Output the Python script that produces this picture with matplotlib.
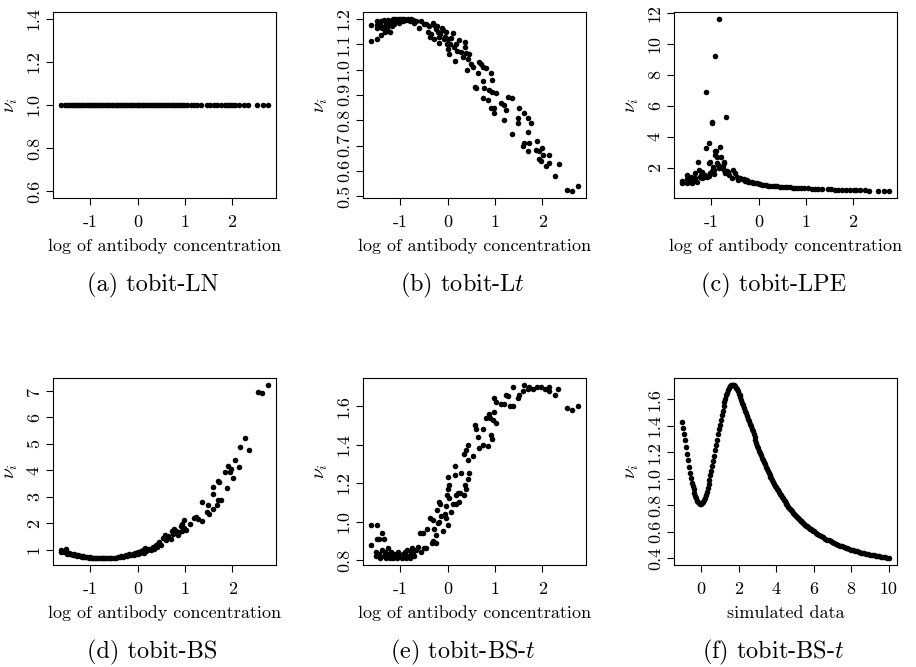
import matplotlib
matplotlib.use('Agg')
import matplotlib.pyplot as plt

plt.rcParams['font.family'] = ['cmr10', 'DejaVu Serif']
plt.rcParams['mathtext.fontset'] = 'cm'
plt.rcParams['axes.unicode_minus'] = False

# (a) tobit-LN : nu_i constant at 1
a_x = [-1.62, -1.55, -1.5, -1.46, -1.42, -1.38, -1.35, -1.31, -1.28, -1.24, -1.2, -1.17,
       -1.13, -1.1, -1.06, -1.02, -0.99, -0.95, -0.92, -0.88, -0.85, -0.81, -0.78, -0.74,
       -0.7, -0.66, -0.63, -0.59, -0.55, -0.52, -0.48, -0.44, -0.41, -0.37, -0.33, -0.3,
       -0.26, -0.22, -0.19, -0.15, -0.11, -0.08, -0.04, 0.0, 0.03, 0.07, 0.11, 0.14, 0.18,
       0.22, 0.26, 0.3, 0.34, 0.38, 0.42, 0.46, 0.5, 0.54, 0.58, 0.62, 0.66, 0.7, 0.74,
       0.78, 0.82, 0.86, 0.9, 0.94, 0.98, 1.05, 1.13, 1.2, 1.27, 1.35, 1.47, 1.54, 1.62,
       1.68, 1.76, 1.86, 1.9, 1.94, 1.98, 2.02, 2.07, 2.15, 2.26, 2.34, 2.54, 2.65, 2.76]
a_y = [1.0] * len(a_x)

# (b) tobit-Lt
b_x = [-1.61, -1.61, -1.49, -1.49, -1.49, -1.49, -1.42, -1.4, -1.4, -1.38, -1.35, -1.33,
       -1.33, -1.3, -1.28, -1.26, -1.24, -1.22, -1.2, -1.18, -1.15, -1.13, -1.1, -1.08,
       -1.05, -1.02, -1.0, -0.97, -0.94, -0.92, -0.88, -0.84, -0.8, -0.77, -0.73, -0.7,
       -0.66, -0.61, -0.56, -0.5, -0.45, -0.42, -0.4, -0.38, -0.34, -0.31, -0.29, -0.28,
       -0.25, -0.22, -0.2, -0.19, -0.17, -0.15, -0.12, -0.1, -0.08, -0.06, -0.04, -0.02,
       0.0, 0.02, 0.04, 0.06, 0.08, 0.11, 0.13, 0.15, 0.18, 0.2, 0.25, 0.28, 0.32, 0.36,
       0.37, 0.39, 0.42, 0.44, 0.46, 0.5, 0.53, 0.57, 0.6, 0.64, 0.67, 0.7, 0.74, 0.74,
       0.74, 0.78, 0.81, 0.85, 0.88, 0.92, 0.92, 0.95, 0.95, 0.99, 0.99, 1.02, 1.13, 1.2,
       1.2, 1.24, 1.27, 1.36, 1.36, 1.48, 1.48, 1.52, 1.59, 1.62, 1.62, 1.69, 1.69, 1.69,
       1.73, 1.76, 1.87, 1.88, 1.94, 1.94, 1.97, 2.0, 2.01, 2.07, 2.14, 2.15, 2.26, 2.35,
       2.52, 2.63, 2.75]
b_y = [1.176, 1.113, 1.12, 1.19, 1.176, 1.163, 1.18, 1.137, 1.19, 1.165, 1.195, 1.17,
       1.15, 1.185, 1.16, 1.195, 1.175, 1.15, 1.19, 1.17, 1.198, 1.18, 1.2, 1.19,
       1.2, 1.185, 1.198, 1.2, 1.19, 1.2, 1.195, 1.2, 1.19, 1.2, 1.195, 1.185,
       1.19, 1.163, 1.19, 1.18, 1.18, 1.15, 1.17, 1.13, 1.14, 1.185, 1.175, 1.12,
       1.16, 1.17, 1.15, 1.13, 1.104, 1.14, 1.165, 1.155, 1.12, 1.13, 1.15, 1.1,
       1.12, 1.08, 1.06, 1.1, 1.125, 1.143, 1.09, 1.032, 1.1, 1.075, 1.117, 1.07, 1.05, 1.11,
       1.09, 1.065, 1.0, 1.04, 1.06, 1.02, 1.01, 0.933, 0.927, 0.986, 1.03, 1.02, 1.01, 0.953,
       0.887, 0.927, 1.008, 0.88, 0.92, 0.986, 0.848, 0.96, 0.913, 0.848, 0.828, 0.906, 0.868, 0.86,
       0.8, 0.84, 0.89, 0.887, 0.745, 0.808, 0.789, 0.85, 0.697, 0.828, 0.71, 0.808, 0.755, 0.677,
       0.71, 0.79, 0.684, 0.717, 0.677, 0.645, 0.638, 0.69, 0.664, 0.618, 0.63, 0.664, 0.58, 0.627,
       0.526, 0.52, 0.54]

# (c) tobit-LPE
c_x = [-1.62, -1.62, -1.51, -1.51, -1.51, -1.45, -1.43, -1.41, -1.41, -1.38, -1.34, -1.34,
       -1.31, -1.27, -1.29, -1.25, -1.23, -1.2, -1.2, -1.16, -1.13, -1.09, -1.05, -1.03,
       -1.06, -1.04, -1.12, -1.06, -1.12, -0.99, -0.98, -0.92, -0.85, -0.69, -0.97, -0.95,
       -0.92, -0.92, -0.9, -0.88, -0.88, -0.86, -0.85, -0.81, -0.8, -0.78, -0.76, -0.74,
       -0.74, -0.73, -0.71, -0.68, -0.65, -0.62, -0.57, -0.55, -0.98, -0.95,
       -0.5, -0.46, -0.43, -0.4, -0.36, -0.32, -0.28, -0.25, -0.22, -0.18, -0.15, -0.11,
       -0.08, -0.04, 0.0, 0.03, 0.07, 0.11, 0.15, 0.2, 0.25, 0.3, 0.35, 0.4, 0.45, 0.5,
       0.55, 0.6, 0.66, 0.72, 0.78, 0.84, 0.9, 0.96, 1.05, 1.13, 1.2, 1.27, 1.35, 1.47,
       1.54, 1.62, 1.68, 1.76, 1.86, 1.94, 2.02, 2.07, 2.15, 2.26, 2.34, 2.54, 2.65, 2.76]
c_y = [0.99, 1.16, 1.25, 1.5, 1.03, 1.1, 1.42, 1.2, 1.0, 1.3, 1.63, 1.3,
       1.1, 1.85, 2.39, 1.4, 1.52, 1.74, 1.3, 1.42, 1.55, 1.38, 1.45, 1.63,
       2.28, 2.34, 3.25, 3.61, 6.88, 4.97, 4.9, 9.2, 11.63, 5.31, 2.06, 1.85,
       2.82, 3.08, 3.1, 2.71, 2.28, 2.2, 2.0, 3.35, 2.66, 1.96, 2.1, 1.85,
       2.39, 2.28, 1.63, 1.8, 1.7, 1.52, 1.3, 1.85, 1.75, 1.6,
       1.63, 1.42, 1.2, 1.35, 1.25, 1.27, 1.15, 1.2, 1.08, 1.1, 1.05, 1.03,
       0.98, 0.99, 0.95, 0.92, 0.9, 0.88, 0.86, 0.84, 0.82, 0.81, 0.79, 0.78, 0.77, 0.76,
       0.75, 0.73, 0.72, 0.71, 0.7, 0.69, 0.68, 0.67, 0.66, 0.64, 0.63, 0.62, 0.61, 0.6,
       0.59, 0.58, 0.57, 0.56, 0.55, 0.55, 0.54, 0.53, 0.53, 0.52, 0.51, 0.49, 0.48, 0.48]

# (d) tobit-BS
d_x = [-1.61, -1.61, -1.55, -1.51, -1.51, -1.48, -1.45, -1.42, -1.4, -1.37, -1.35, -1.32,
       -1.3, -1.27, -1.25, -1.22, -1.2, -1.17, -1.15, -1.12, -1.1, -1.06, -1.03, -1.0,
       -0.97, -0.93, -0.9, -0.87, -0.83, -0.8, -0.76, -0.73, -0.7, -0.66, -0.62, -0.59,
       -0.55, -0.5, -0.46, -0.42, -0.38, -0.35, -0.31, -0.28, -0.25, -0.22, -0.19, -0.17,
       -0.14, -0.1, -0.08, -0.05, -0.02, 0.0, 0.02, 0.05, 0.08, 0.11, 0.13, 0.15, 0.18,
       0.2, 0.25, 0.28, 0.32, 0.35, 0.39, 0.42, 0.43, 0.46, 0.5, 0.53, 0.57, 0.6, 0.64,
       0.7, 0.73, 0.75, 0.78, 0.81, 0.85, 0.88, 0.91, 0.94, 0.94, 0.98, 0.99, 1.02, 1.11,
       1.2, 1.24, 1.28, 1.36, 1.37, 1.47, 1.48, 1.5, 1.59, 1.59, 1.6, 1.67, 1.69, 1.69,
       1.72, 1.76, 1.85, 1.89, 1.92, 1.95, 1.97, 2.01, 2.05, 2.14, 2.17, 2.26, 2.35, 2.54,
       2.62, 2.75]
d_y = [1.01, 0.91, 0.93, 1.03, 0.91, 0.86, 0.88, 0.84, 0.85, 0.8, 0.83, 0.79,
       0.81, 0.77, 0.79, 0.75, 0.77, 0.74, 0.76, 0.73, 0.74, 0.72, 0.71, 0.72,
       0.7, 0.71, 0.69, 0.7, 0.69, 0.7, 0.69, 0.69, 0.7, 0.69, 0.7, 0.69,
       0.7, 0.71, 0.7, 0.73, 0.72, 0.75, 0.74, 0.76, 0.79, 0.77, 0.8, 0.83,
       0.81, 0.85, 0.82, 0.87, 0.89, 0.84, 0.92, 0.88, 0.95, 0.98, 0.9, 1.07, 0.96,
       1.0, 1.04, 0.98, 1.1, 1.05, 1.17, 1.12, 1.23, 1.29, 1.2, 1.46, 1.55, 1.38, 1.51,
       1.42, 1.7, 1.6, 1.78, 1.73, 1.55, 1.68, 1.9, 1.99, 1.73, 2.11, 1.82, 1.75, 1.99,
       2.2, 2.24, 2.15, 2.81, 2.09, 2.43, 2.71, 2.37, 3.38, 3.1, 2.56, 2.7, 3.59, 2.87,
       3.55, 2.87, 3.94, 3.35, 4.17, 3.95, 4.07, 3.73, 4.41, 4.13, 4.89, 5.21, 4.79, 6.95,
       6.91, 7.23]

# (e) tobit-BS-t
e_x = [-1.61, -1.49, -1.61, -1.49, -1.39, -1.45, -1.35, -1.5, -1.5, -1.45, -1.42, -1.38,
       -1.35, -1.32, -1.3, -1.28, -1.25, -1.22, -1.2, -1.17, -1.15, -1.12, -1.1, -1.07,
       -1.04, -1.0, -0.97, -0.95, -0.92, -0.9, -0.88, -0.85, -0.83, -0.8, -0.78, -0.75,
       -0.72, -0.7, -0.66, -0.62, -0.59, -0.56, -0.51, -0.5, -0.46, -0.43, -0.38, -0.33,
       -0.31, -0.31, -0.28, -0.25, -0.24, -0.23, -0.2, -0.17, -0.17, -0.15, -0.13, -0.1,
       -0.06, -0.04, -0.03, -0.02, 0.0, 0.0, 0.02, 0.03, 0.04, 0.08, 0.11, 0.15, 0.15,
       0.18, 0.18, 0.22, 0.25, 0.27, 0.29, 0.34, 0.34, 0.36, 0.38, 0.39, 0.43, 0.43, 0.43,
       0.46, 0.53, 0.57, 0.6, 0.64, 0.67, 0.74, 0.76, 0.81, 0.85, 0.88, 0.9, 0.92, 0.95,
       0.96, 0.99, 0.99, 1.02, 1.02, 1.13, 1.2, 1.24, 1.27, 1.31, 1.38, 1.38, 1.48, 1.52,
       1.59, 1.62, 1.69, 1.72, 1.8, 1.9, 1.97, 2.05, 2.14, 2.15, 2.28, 2.34, 2.52, 2.63, 2.75]
e_y = [0.98, 0.98, 0.88, 0.91, 0.94, 0.91, 0.91, 0.84, 0.82, 0.83, 0.81, 0.85,
       0.82, 0.84, 0.81, 0.83, 0.86, 0.81, 0.84, 0.82, 0.81, 0.83, 0.82, 0.81,
       0.84, 0.82, 0.81, 0.83, 0.82, 0.84, 0.81, 0.85, 0.82, 0.81, 0.84, 0.86,
       0.83, 0.82, 0.85, 0.87, 0.94, 0.84, 0.94, 0.86, 0.86, 0.96, 1.02, 0.89,
       1.01, 0.9, 0.96, 0.89, 0.93, 1.06, 0.99, 1.1, 1.0, 1.09, 1.03, 0.95,
       1.04, 1.02, 1.08, 1.14, 1.17, 0.98, 1.23, 1.19, 1.12, 1.05, 1.09, 1.24, 1.29,
       1.14, 1.09, 1.15, 1.1, 1.15, 1.25, 1.14, 1.35, 1.19, 1.17, 1.37, 1.4, 1.32, 1.22,
       1.25, 1.34, 1.5, 1.48, 1.44, 1.38, 1.4, 1.48, 1.54, 1.39, 1.56, 1.54, 1.45, 1.43,
       1.53, 1.57, 1.64, 1.51, 1.62, 1.61, 1.61, 1.66, 1.65, 1.6, 1.6, 1.7, 1.64, 1.66,
       1.68, 1.71, 1.69, 1.7, 1.69, 1.7, 1.7, 1.69, 1.68, 1.7, 1.66, 1.69, 1.59, 1.58, 1.6]

# (f) tobit-BS-t, simulated data
f_x = [-1.0, -0.95, -0.9, -0.85, -0.8, -0.75, -0.7, -0.65, -0.6, -0.55, -0.5, -0.45,
       -0.4, -0.35, -0.3, -0.25, -0.2, -0.15, -0.1, -0.05, 0.0, 0.05, 0.1, 0.15, 0.2,
       0.25, 0.3, 0.35, 0.4, 0.45, 0.5, 0.55, 0.6, 0.65, 0.7, 0.75, 0.8, 0.85, 0.9, 0.95,
       1.0, 1.05, 1.1, 1.15, 1.2, 1.25, 1.3, 1.35, 1.4, 1.45, 1.5, 1.55, 1.6, 1.65, 1.7,
       1.75, 1.8, 1.85, 1.9, 1.95, 2.0, 2.05, 2.1, 2.15, 2.2, 2.25, 2.3, 2.35, 2.4, 2.45,
       2.5, 2.55, 2.6, 2.65, 2.7, 2.75, 2.8, 2.85, 2.9, 2.95, 3.0, 3.05, 3.1, 3.15, 3.2,
       3.25, 3.3, 3.35, 3.4, 3.45, 3.5, 3.55, 3.6, 3.65, 3.7, 3.75, 3.8, 3.85, 3.9, 3.95,
       4.0, 4.05, 4.1, 4.15, 4.2, 4.25, 4.3, 4.35, 4.4, 4.45, 4.5, 4.55, 4.6, 4.65, 4.7,
       4.75, 4.8, 4.85, 4.9, 4.95, 5.0, 5.05, 5.1, 5.15, 5.2, 5.25, 5.3, 5.35, 5.4, 5.45,
       5.5, 5.55, 5.6, 5.65, 5.7, 5.75, 5.8, 5.85, 5.9, 5.95, 6.0,
       6.1, 6.2, 6.3, 6.4, 6.5, 6.6, 6.7, 6.8, 6.9, 7.0, 7.1, 7.2, 7.3, 7.4, 7.5, 7.6,
       7.7, 7.8, 7.9, 8.0, 8.1, 8.2, 8.3, 8.4, 8.5, 8.6, 8.7, 8.8, 8.9, 9.0, 9.1, 9.2,
       9.3, 9.4, 9.5, 9.6, 9.7, 9.8, 9.9, 10.0]
f_y = [1.43, 1.385, 1.34, 1.29, 1.24, 1.19, 1.14, 1.09, 1.04, 1.005, 0.97, 0.945,
       0.92, 0.893, 0.87, 0.852, 0.835, 0.823, 0.815, 0.81, 0.81, 0.814, 0.822, 0.836, 0.855,
       0.877, 0.9, 0.928, 0.958, 0.99, 1.025, 1.06, 1.095, 1.135, 1.175, 1.215, 1.255, 1.295, 1.335, 1.375,
       1.41, 1.445, 1.48, 1.515, 1.548, 1.578, 1.605, 1.63, 1.652, 1.672, 1.688, 1.7, 1.707, 1.71, 1.71,
       1.707, 1.7, 1.69, 1.677, 1.662, 1.645, 1.63, 1.615, 1.595, 1.575, 1.555, 1.535, 1.515, 1.495, 1.475,
       1.455, 1.435, 1.415, 1.397, 1.38, 1.358, 1.337, 1.315, 1.294, 1.272, 1.25, 1.231, 1.213, 1.195, 1.178,
       1.16, 1.143, 1.125, 1.108, 1.091, 1.075, 1.06, 1.045, 1.031, 1.017, 1.003, 0.99, 0.976, 0.962, 0.949,
       0.936, 0.924, 0.912, 0.9, 0.888, 0.876, 0.865, 0.854, 0.843, 0.831, 0.82, 0.81, 0.8, 0.79, 0.781,
       0.771, 0.762, 0.753, 0.744, 0.735, 0.727, 0.719, 0.712, 0.705, 0.698, 0.691, 0.684, 0.677, 0.671, 0.664,
       0.658, 0.652, 0.646, 0.64, 0.634, 0.628, 0.623, 0.617, 0.612, 0.607, 0.602,
       0.592, 0.582, 0.573, 0.564, 0.556, 0.548, 0.54, 0.533, 0.526, 0.519, 0.512, 0.506, 0.5, 0.494, 0.488, 0.483,
       0.478, 0.473, 0.468, 0.463, 0.458, 0.454, 0.45, 0.446, 0.442, 0.438, 0.435, 0.432, 0.429, 0.426, 0.423, 0.42,
       0.417, 0.415, 0.413, 0.41, 0.408, 0.405, 0.403, 0.4]

panels = [
    (a_x, a_y, [0.6, 0.8, 1.0, 1.2, 1.4], [-1, 0, 1, 2], '%.1f', 'log of antibody concentration', '(a) tobit-LN'),
    (b_x, b_y, [0.5, 0.6, 0.7, 0.8, 0.9, 1.0, 1.1, 1.2], [-1, 0, 1, 2], '%.1f', 'log of antibody concentration', '(b) tobit-L$t$'),
    (c_x, c_y, [2, 4, 6, 8, 10, 12], [-1, 0, 1, 2], '%d', 'log of antibody concentration', '(c) tobit-LPE'),
    (d_x, d_y, [1, 2, 3, 4, 5, 6, 7], [-1, 0, 1, 2], '%d', 'log of antibody concentration', '(d) tobit-BS'),
    (e_x, e_y, [0.8, 1.0, 1.2, 1.4, 1.6], [-1, 0, 1, 2], '%.1f', 'log of antibody concentration', '(e) tobit-BS-$t$'),
    (f_x, f_y, [0.4, 0.6, 0.8, 1.0, 1.2, 1.4, 1.6], [0, 2, 4, 6, 8, 10], '%.1f', 'simulated data', '(f) tobit-BS-$t$'),
]

W, H = 916, 667
fig = plt.figure(figsize=(W / 100, H / 100), dpi=100)

lefts = [53, 363, 674]
rows = [(12, 198), (378, 565)]
axw = 223

for i, (x, y, yt, xt, fmt, xl, cap) in enumerate(panels):
    top, bot = rows[i // 3]
    left = lefts[i % 3]
    ax = fig.add_axes([left / W, (H - bot) / H, axw / W, (bot - top) / H])
    ax.scatter(x, y, s=16, c='black', linewidths=0)
    ax.margins(0.04)
    if i == 0:
        ax.set_ylim(0.568, 1.432)
    ax.set_yticks(yt)
    ax.set_yticklabels([fmt % v for v in yt])
    ax.set_xticks(xt)
    ax.set_xticklabels([str(v) for v in xt])
    ax.tick_params(direction='out', length=5, width=0.8, labelsize=13)
    ax.tick_params(axis='x', pad=7)
    ax.tick_params(axis='y', labelrotation=90, pad=3)
    for lab in ax.get_yticklabels():
        lab.set_va('center')
    for s in ax.spines.values():
        s.set_linewidth(0.8)
    ax.set_ylabel(r'$\nu_i$', fontsize=14)
    ax.yaxis.set_label_coords(-42 / axw, 0.5)
    ax.yaxis.label.set_va('center')
    ax.set_xlabel(xl, fontsize=13)
    ax.xaxis.set_label_coords(0.5, -48 / (bot - top))
    ax.xaxis.label.set_va('center')
    fig.text((left + axw / 2 - 12) / W, 1 - (bot + 87) / H, cap, ha='center', va='center', fontsize=17.5)

fig.savefig('out.png', dpi=100)
